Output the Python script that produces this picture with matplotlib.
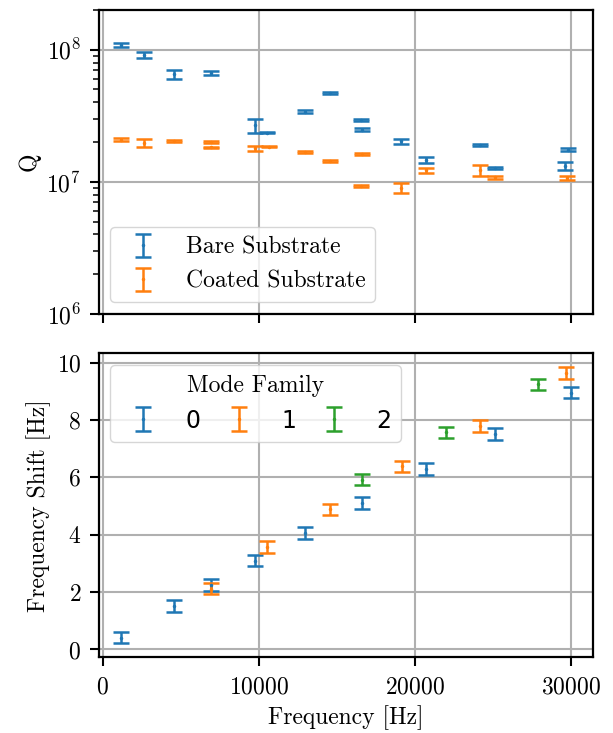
import matplotlib
matplotlib.use("Agg")
import matplotlib.pyplot as plt

# top panel: quality factor
freq_bare = [1180, 2650, 4580, 6970, 9740, 10540, 12990, 14580,
             16560, 16630, 19130, 20690, 24150, 25130, 29830, 29620]
q_bare = [1.09e8, 9.1e7, 6.55e7, 6.65e7, 2.68e7, 2.36e7, 3.40e7, 4.68e7,
          2.96e7, 2.48e7, 2.03e7, 1.47e7, 1.90e7, 1.28e7, 1.75e7, 1.31e7]
q_bare_err = [4.4e6, 5e6, 5.3e6, 2.3e6, 3.3e6, 3e5, 7e5, 8e5,
              5e5, 7e5, 9.5e5, 7.8e5, 4.4e5, 2.2e5, 4.6e5, 9e5]

freq_coat = [1180, 2650, 4580, 6970, 6970, 9740, 10640, 12990,
             14580, 16630, 16560, 19130, 20690, 24150, 25130, 29770]
q_coat = [2.09e7, 1.97e7, 2.05e7, 2.0e7, 1.82e7, 1.79e7, 1.85e7, 1.68e7,
          1.43e7, 1.63e7, 9.3e6, 8.97e6, 1.22e7, 1.22e7, 1.08e7, 1.07e7]
q_coat_err = [5.4e5, 1.27e6, 3.5e5, 2.4e5, 3e5, 7e5, 3.1e5, 2e5,
              2e5, 3.3e5, 1.3e5, 8e5, 4.6e5, 1.15e6, 2.2e5, 3.7e5]

# bottom panel: frequency shift per mode family
fam0_f = [1180, 4580, 6970, 9760, 12980, 16630, 20730, 25170, 30000]
fam0_shift = [0.41, 1.51, 2.24, 3.10, 4.06, 5.10, 6.29, 7.51, 8.95]
fam1_f = [6970, 10530, 14580, 19170, 24210, 29700]
fam1_shift = [2.12, 3.57, 4.88, 6.38, 7.79, 9.64]
fam2_f = [16630, 21990, 27880]
fam2_shift = [5.92, 7.57, 9.24]
shift_err = 0.2

plt.rcParams['font.family'] = ['cmr10', 'DejaVu Serif']
plt.rcParams['mathtext.fontset'] = 'cm'
plt.rcParams['axes.formatter.use_mathtext'] = True
plt.rcParams['font.size'] = 17
plt.rcParams['axes.linewidth'] = 1.6
plt.rcParams['xtick.major.size'] = 6.5
plt.rcParams['ytick.major.size'] = 6.5
plt.rcParams['xtick.major.width'] = 1.5
plt.rcParams['ytick.major.width'] = 1.5
plt.rcParams['ytick.minor.size'] = 4.3
plt.rcParams['ytick.minor.width'] = 1.1
plt.rcParams['xtick.major.pad'] = 7
plt.rcParams['ytick.major.pad'] = 6
plt.rcParams['grid.linewidth'] = 1.5

eb = dict(fmt='.', markersize=3, capsize=6, elinewidth=1.8, capthick=1.8, ls='none')

fig, (ax1, ax2) = plt.subplots(2, 1, figsize=(6.13, 7.33), dpi=100, sharex=True)
fig.subplots_adjust(left=0.1607, right=0.9679, bottom=0.1033, top=0.9864, hspace=0.13)

ax1.errorbar(freq_bare, q_bare, yerr=q_bare_err, label='Bare Substrate', **eb)
ax1.errorbar(freq_coat, q_coat, yerr=q_coat_err, label='Coated Substrate', **eb)
ax1.set_yscale('log')
ax1.set_ylim(1e6, 2e8)
ax1.set_ylabel('Q')
ax1.grid(True)
ax1.legend(loc='lower left', fontsize=17)

ax2.errorbar(fam0_f, fam0_shift, yerr=shift_err, label='0', **eb)
ax2.errorbar(fam1_f, fam1_shift, yerr=shift_err, label='1', **eb)
ax2.errorbar(fam2_f, fam2_shift, yerr=shift_err, label='2', **eb)
ax2.set_xlabel('Frequency [Hz]', labelpad=5)
ax2.set_ylabel('Frequency Shift [Hz]')
ax2.grid(True)
leg = ax2.legend(loc='upper left', ncol=3, title='Mode Family', fontsize=17,
                 title_fontsize=17, columnspacing=0.6)
for t in leg.get_texts():
    t.set_fontfamily('DejaVu Sans')

fig.savefig('out.png', dpi=100)
